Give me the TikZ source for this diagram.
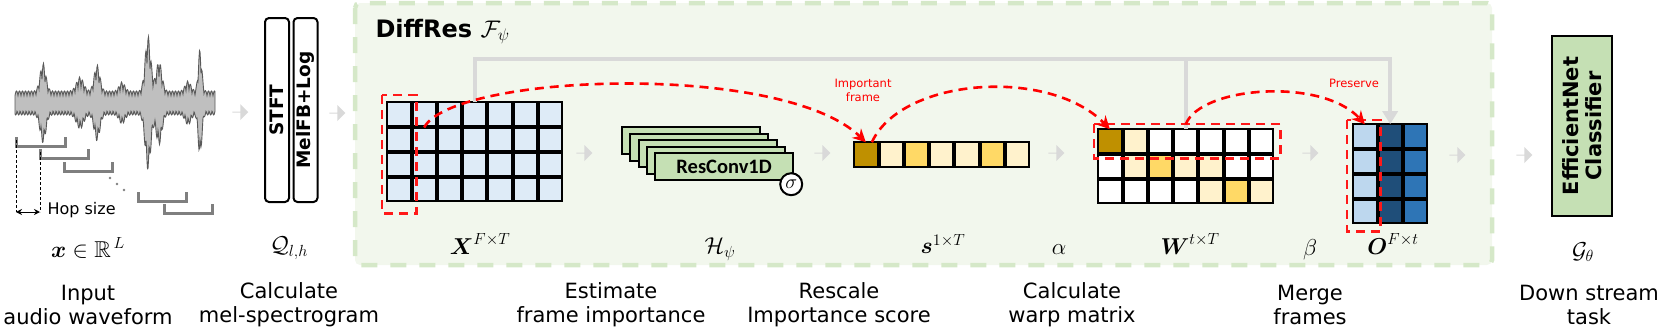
\RequirePackage{fix-cm}
\documentclass[tikz,border=0pt]{standalone}
\usepackage{amsmath,amssymb}
\usepackage{fontspec}
\setmainfont{DejaVu Sans}
\newfontfamily\convfont{Carlito}
\usetikzlibrary{matrix,shapes.arrows,arrows.meta}

\definecolor{xblue}{HTML}{DEEBF7}
\definecolor{olight}{HTML}{BDD7EE}
\definecolor{odark}{HTML}{1F4E79}
\definecolor{omid}{HTML}{2E75B6}
\definecolor{sdark}{HTML}{BF9000}
\definecolor{slight}{HTML}{FFF2CC}
\definecolor{smid}{HTML}{FFD966}
\definecolor{boxgreen}{HTML}{C5E0B4}
\definecolor{bggreen}{HTML}{F2F7ED}
\definecolor{dashgreen}{HTML}{D5E8C8}
\definecolor{flowgray}{HTML}{D9D9D9}
\definecolor{hopgray}{HTML}{7F7F7F}

\tikzset{
  declare function={bump(\t,\m,\s)=exp(-((\t-\m)/\s)*((\t-\m)/\s));
    env(\t)=12+28*bump(\t,43,4)+14*bump(\t,80,5)+26*bump(\t,97,4)+9*bump(\t,122,4)
      +55*bump(\t,148,4)+30*bump(\t,159,4)+10*bump(\t,188,4)+42*bump(\t,200,2.5);},
  cell/.style={draw, line width=2pt, minimum size=23.3pt, inner sep=0pt, outer sep=0pt},
  grid/.style={matrix of nodes, nodes in empty cells, ampersand replacement=\&,
               nodes={cell}, row sep=0pt, column sep=0pt, inner sep=0pt, anchor=north west},
  flow/.style={single arrow, single arrow head extend=3pt, minimum width=16pt,
               minimum height=16pt, inner sep=0pt, fill=flowgray},
  stage/.style={draw, line width=2pt, rounded corners=4pt, rotate=90, minimum width=184pt,
                minimum height=24pt, inner sep=0pt, fill=white,
                font=\bfseries\fontsize{18.5}{20}\selectfont},
  conv/.style={draw, line width=2.2pt, fill=boxgreen, minimum width=138pt,
               minimum height=27pt, inner sep=0pt, anchor=north west},
  clf/.style={draw, line width=2.5pt, fill=boxgreen, rotate=90, minimum width=180pt,
              minimum height=60pt, align=center, font=\bfseries\fontsize{21}{23}\selectfont},
  diffres/.style={fill=bggreen, draw=dashgreen, line width=4.5pt, rounded corners=5pt,
                  dash pattern=on 16pt off 13pt},
  skip/.style={draw=flowgray, line width=4pt},
  imp/.style={red, line width=2.6pt, dash pattern=on 9pt off 6pt,
              -{Stealth[length=13pt,width=13pt]}},
  hilite/.style={red!90, line width=2.4pt, dash pattern=on 9pt off 6pt},
  hopbracket/.style={draw=hopgray, line width=3pt},
  mathlab/.style={font=\fontsize{23}{26}\selectfont},
  caption/.style={align=center, font=\fontsize{21}{24}\selectfont},
  note/.style={red, align=center, font=\fontsize{11.5}{14}\selectfont}
}

\begin{document}
\begin{tikzpicture}[x=1pt, y=-1pt]
  \useasboundingbox (0,0) rectangle (1661,330);

  % DiffRes block
  \draw[diffres] (355,3) rectangle (1492,265);
  \node[anchor=base west, font=\bfseries\fontsize{24}{28}\selectfont] (title) at (372,37)
    {DiffRes $\mathcal{F}_{\psi}$};

  % waveform and frames
  \filldraw[fill=gray!50, draw=gray!70!black, line width=0.9pt]
    plot[domain=15:215, samples=401] (\x, {103-env(\x)*(0.62+0.38*abs(sin(60*\x)))})
    -- plot[domain=215:15, samples=401] (\x, {103+env(\x)*(0.62+0.38*abs(sin(60*\x+50)))})
    -- cycle;
  \foreach \a/\b/\y in {16/65/146, 40/88/158, 64/112/171, 138/186/201, 164/212/213}
    \draw[hopbracket] (\a,\y-9) |- (\b,\y) -- (\b,\y-9);
  \foreach \x/\y in {110/178, 117/184, 124/190}
    \fill[hopgray] (\x,\y) circle (1.4);
  \draw[densely dashed, line width=1pt] (16,140) -- (16,212) coordinate (hopL);
  \draw[densely dashed, line width=1pt] (40,152) -- (40,212) coordinate (hopR);
  \draw[{Stealth[length=6pt,width=6pt]}-{Stealth[length=6pt,width=6pt]}, line width=1pt]
    (hopL) -- (hopR);
  \node[anchor=west, font=\fontsize{16}{19}\selectfont] (hop) at (44,210) {Hop size};

  % front end
  \node[stage] (stft) at (277,110) {STFT};
  \node[stage] (melfb) at (305.5,110) {MelFB+Log};

  % spectrogram
  \matrix[grid, nodes={fill=xblue}] (X) at (386,101) {
     \& \& \& \& \& \& \\
     \& \& \& \& \& \& \\
     \& \& \& \& \& \& \\
     \& \& \& \& \& \& \\
  };

  % importance estimator
  \foreach \i in {0,...,3}
    \node[conv] (conv\i) at (621+8.25*\i, 126+6.5*\i) {};
  \node[conv] (conv) at (654,152) {\convfont\bfseries\fontsize{20.5}{22}\selectfont ResConv1D};
  \node[circle, draw, fill=white, line width=2pt, minimum size=22pt, inner sep=0pt,
        font=\fontsize{20}{20}\selectfont] (sig) at ([shift={(-3,3)}]conv.south east) {$\sigma$};

  % importance score
  \matrix[grid, nodes={minimum height=25pt}] (s) at (853,141) {
    |[fill=sdark]| \& |[fill=slight]| \& |[fill=smid]| \& |[fill=slight]|
      \& |[fill=slight]| \& |[fill=smid]| \& |[fill=slight]| \\
  };

  % warp matrix
  \matrix[grid, nodes={fill=white}] (W) at (1097,128) {
    |[fill=sdark]| \& |[fill=slight]| \& \& \& \& \& \\
    \& |[fill=slight]| \& |[fill=smid]| \& |[fill=slight]| \& |[fill=slight]| \& \& \\
    \& \& \& \& |[fill=slight]| \& |[fill=smid]| \& |[fill=slight]| \\
  };

  % output
  \matrix[grid] (O) at (1352,123) {
    |[fill=olight]| \& |[fill=odark]| \& |[fill=omid]| \\
    |[fill=olight]| \& |[fill=odark]| \& |[fill=omid]| \\
    |[fill=olight]| \& |[fill=odark]| \& |[fill=omid]| \\
    |[fill=olight]| \& |[fill=odark]| \& |[fill=omid]| \\
  };

  % skip path
  \draw[skip, -{Triangle[length=13pt,width=15pt]}] (X-1-4.north) -- ++(0,-43) coordinate (bus)
    -| (O-1-2.north);
  \draw[skip] (W-1-4.north) -- (W-1-4.north |- bus);

  % highlighted frames
  \draw[hilite] ([shift={(-5,-7)}]X-1-1.north west) rectangle ([shift={(6,12)}]X-4-1.south east);
  \draw[hilite] ([shift={(-4,-5)}]W-1-1.north west) rectangle ([shift={(7,6)}]W-1-7.south east);
  \draw[hilite] ([shift={(-6,-4)}]O-1-1.north west) rectangle ([shift={(4,8)}]O-4-1.south east);

  \draw[imp] (X-2-2.north) .. controls +(29,-54) and +(-84,-81) .. (s-1-1.north);
  \draw[imp] ([xshift=6pt]s-1-1.north) .. controls +(30,-65) and +(-60,-62) .. (W-1-1.north);
  \draw[imp] ([yshift=5pt]W-1-4.north) .. controls +(15,-38) and +(-43,-47) .. (O-1-1.north);
  \node[note] (impnote) at (863,90) {Important\\frame};
  \node[note] (presnote) at (1354,83) {Preserve};

  % classifier
  \node[clf] (clf) at (1582,126) {EfficientNet\\Classifier};

  % flow arrows
  \foreach \x/\y [count=\k] in {240/112, 337/113, 584/153, 822/153, 1056/153,
                                1310/153, 1457/155, 1524/155}
    \node[flow] (flow\k) at (\x,\y) {};

  % symbols
  \node[mathlab] (xlab) at (88,248) {$\boldsymbol{x}\in\mathbb{R}^{\,L}$};
  \node[mathlab] (qlab) at (289,248) {$\mathcal{Q}_{l,h}$};
  \node[mathlab] (Xlab) at (480,244) {$\boldsymbol{X}^{F\times T}$};
  \node[mathlab] (Hlab) at (720,249) {$\mathcal{H}_{\psi}$};
  \node[mathlab] (slab) at (943,244) {$\boldsymbol{s}^{1\times T}$};
  \node[mathlab] (alab) at (1059,250) {$\alpha$};
  \node[mathlab] (Wlab) at (1190,244) {$\boldsymbol{W}^{t\times T}$};
  \node[mathlab] (blab) at (1310,250) {$\beta$};
  \node[mathlab] (Olab) at (1393,244) {$\boldsymbol{O}^{F\times t}$};
  \node[mathlab] (glab) at (1583,252) {$\mathcal{G}_{\theta}$};

  % captions
  \node[caption] (cap1) at (88,305) {Input\\audio waveform};
  \node[caption] (cap2) at (289,305) {Calculate\\mel-spectrogram};
  \node[caption] (cap3) at (611,305) {Estimate\\frame importance};
  \node[caption] (cap4) at (839,305) {Rescale\\Importance score};
  \node[caption] (cap5) at (1072,305) {Calculate\\warp matrix};
  \node[caption] (cap6) at (1310,305) {Merge\\frames};
  \node[caption] (cap7) at (1589,305) {Down stream\\task};
\end{tikzpicture}
\end{document}
